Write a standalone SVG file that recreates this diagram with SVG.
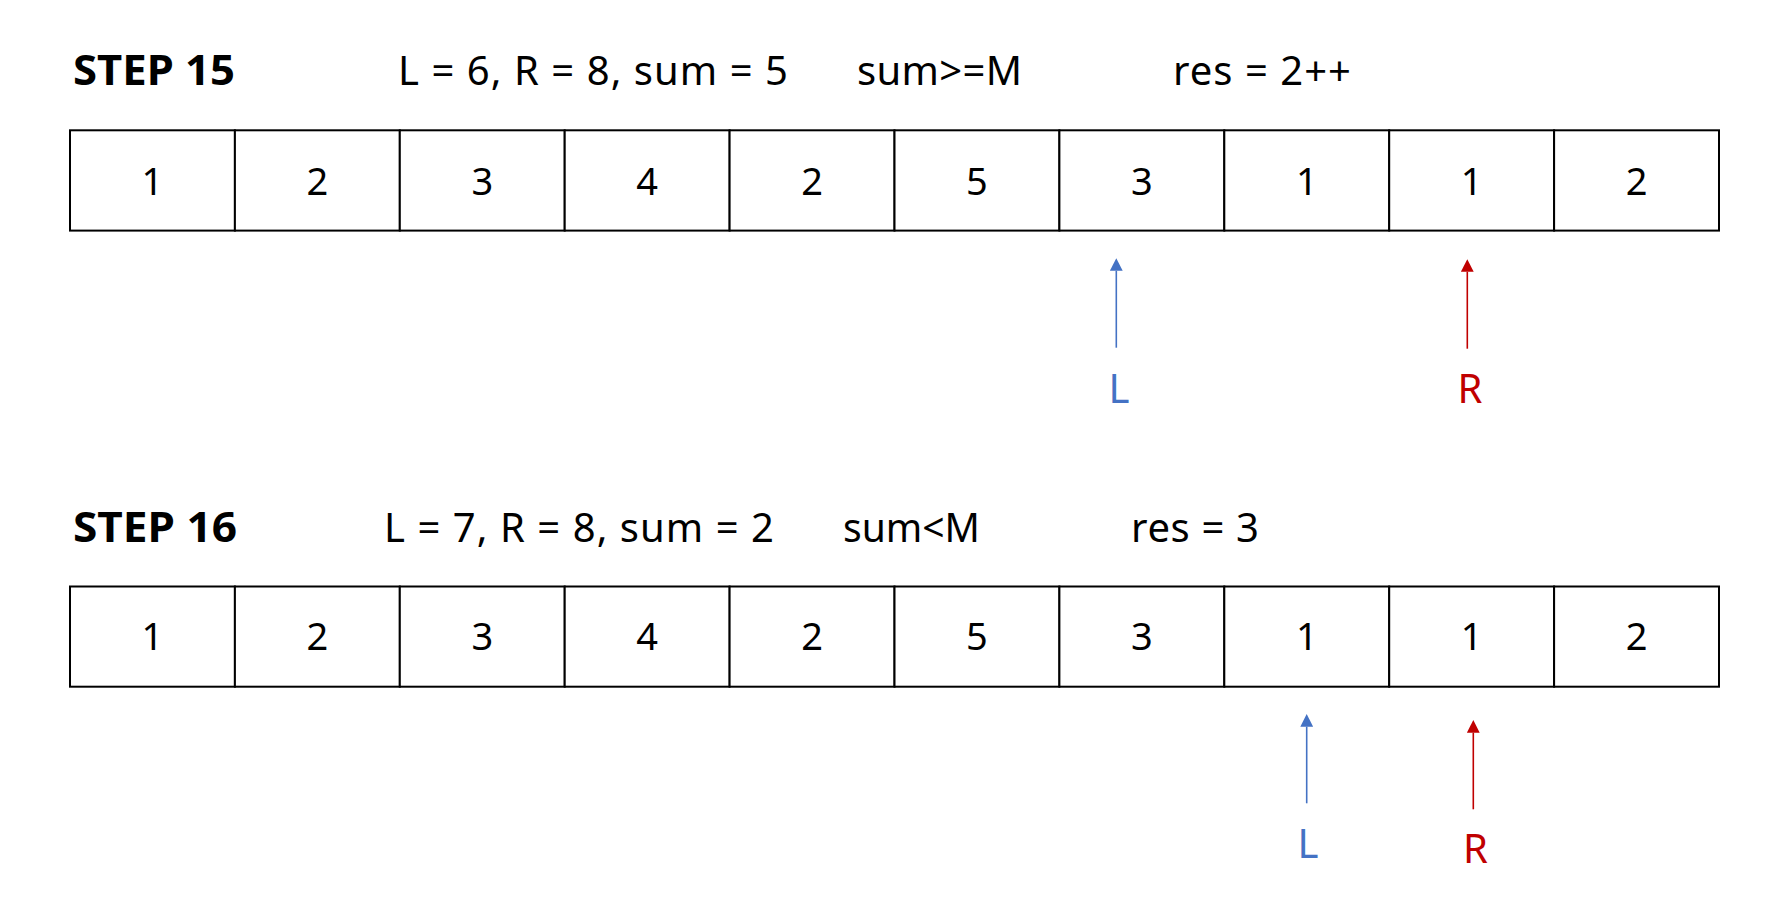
<svg xmlns="http://www.w3.org/2000/svg" width="1783" height="923" viewBox="0 0 1783 923">
<style>
.bg{fill:#ffffff}
.cell{fill:#ffffff;stroke:#000000;stroke-width:2}
.num{font-family:"Noto Sans","Open Sans","Liberation Sans",sans-serif;font-size:38px;fill:#000000;text-anchor:middle}
.step{font-family:"Noto Sans","Open Sans","Liberation Sans",sans-serif;font-size:42px;font-weight:bold;fill:#000000}
.hdr{font-family:"Noto Sans","Open Sans","Liberation Sans",sans-serif;font-size:40px;fill:#000000}
.lbl{font-family:"Noto Sans","Open Sans","Liberation Sans",sans-serif;font-size:40px;text-anchor:middle}
.blue{fill:#4472C4}
.red{fill:#C00000}
.lineB{stroke:#4472C4;stroke-width:1.6;fill:none}
.lineR{stroke:#C00000;stroke-width:1.6;fill:none}
</style>
<defs>
<marker id="headB" markerUnits="userSpaceOnUse" markerWidth="13" markerHeight="13" refX="0" refY="6.4" orient="auto" viewBox="0 0 13 13">
<path d="M0,0 L12.6,6.4 L0,12.8 z" fill="#4472C4"/>
</marker>
<marker id="headR" markerUnits="userSpaceOnUse" markerWidth="13" markerHeight="13" refX="0" refY="6.4" orient="auto" viewBox="0 0 13 13">
<path d="M0,0 L12.6,6.4 L0,12.8 z" fill="#C00000"/>
</marker>
</defs>
<rect class="bg" x="0" y="0" width="1783" height="923"/>

<g id="header15">
<text class="step" x="73" y="85" textLength="162" lengthAdjust="spacingAndGlyphs">STEP 15</text>
<text class="hdr" x="398" y="85" textLength="390" lengthAdjust="spacing">L = 6, R = 8, sum = 5</text>
<text class="hdr" x="857" y="85" textLength="165" lengthAdjust="spacing">sum&gt;=M</text>
<text class="hdr" x="1173" y="85" textLength="178" lengthAdjust="spacing">res = 2++</text>
</g>

<g id="array15">
<g id="a15c0"><rect class="cell" x="70" y="130.3" width="164.9" height="100.3"/><text class="num" x="152.45" y="195">1</text></g>
<g id="a15c1"><rect class="cell" x="234.9" y="130.3" width="164.9" height="100.3"/><text class="num" x="317.35" y="195">2</text></g>
<g id="a15c2"><rect class="cell" x="399.8" y="130.3" width="164.9" height="100.3"/><text class="num" x="482.25" y="195">3</text></g>
<g id="a15c3"><rect class="cell" x="564.7" y="130.3" width="164.9" height="100.3"/><text class="num" x="647.15" y="195">4</text></g>
<g id="a15c4"><rect class="cell" x="729.6" y="130.3" width="164.9" height="100.3"/><text class="num" x="812.05" y="195">2</text></g>
<g id="a15c5"><rect class="cell" x="894.5" y="130.3" width="164.9" height="100.3"/><text class="num" x="976.95" y="195">5</text></g>
<g id="a15c6"><rect class="cell" x="1059.4" y="130.3" width="164.9" height="100.3"/><text class="num" x="1141.85" y="195">3</text></g>
<g id="a15c7"><rect class="cell" x="1224.3" y="130.3" width="164.9" height="100.3"/><text class="num" x="1306.75" y="195">1</text></g>
<g id="a15c8"><rect class="cell" x="1389.2" y="130.3" width="164.9" height="100.3"/><text class="num" x="1471.65" y="195">1</text></g>
<g id="a15c9"><rect class="cell" x="1554.1" y="130.3" width="164.9" height="100.3"/><text class="num" x="1636.55" y="195">2</text></g>
</g>

<g id="labelL15"><text class="lbl blue" x="1119" y="402.5">L</text></g>
<g id="labelR15"><text class="lbl red" x="1470" y="402.5">R</text></g>

<g id="header16">
<text class="step" x="73" y="541.5" textLength="164" lengthAdjust="spacingAndGlyphs">STEP 16</text>
<text class="hdr" x="384" y="541.5" textLength="390" lengthAdjust="spacing">L = 7, R = 8, sum = 2</text>
<text class="hdr" x="843" y="541.5" textLength="137" lengthAdjust="spacingAndGlyphs">sum&lt;M</text>
<text class="hdr" x="1131" y="541.5" textLength="128" lengthAdjust="spacing">res = 3</text>
</g>

<g id="array16">
<g id="a16c0"><rect class="cell" x="70" y="586.5" width="164.9" height="100.2"/><text class="num" x="152.45" y="650">1</text></g>
<g id="a16c1"><rect class="cell" x="234.9" y="586.5" width="164.9" height="100.2"/><text class="num" x="317.35" y="650">2</text></g>
<g id="a16c2"><rect class="cell" x="399.8" y="586.5" width="164.9" height="100.2"/><text class="num" x="482.25" y="650">3</text></g>
<g id="a16c3"><rect class="cell" x="564.7" y="586.5" width="164.9" height="100.2"/><text class="num" x="647.15" y="650">4</text></g>
<g id="a16c4"><rect class="cell" x="729.6" y="586.5" width="164.9" height="100.2"/><text class="num" x="812.05" y="650">2</text></g>
<g id="a16c5"><rect class="cell" x="894.5" y="586.5" width="164.9" height="100.2"/><text class="num" x="976.95" y="650">5</text></g>
<g id="a16c6"><rect class="cell" x="1059.4" y="586.5" width="164.9" height="100.2"/><text class="num" x="1141.85" y="650">3</text></g>
<g id="a16c7"><rect class="cell" x="1224.3" y="586.5" width="164.9" height="100.2"/><text class="num" x="1306.75" y="650">1</text></g>
<g id="a16c8"><rect class="cell" x="1389.2" y="586.5" width="164.9" height="100.2"/><text class="num" x="1471.65" y="650">1</text></g>
<g id="a16c9"><rect class="cell" x="1554.1" y="586.5" width="164.9" height="100.2"/><text class="num" x="1636.55" y="650">2</text></g>
</g>

<g id="labelL16"><text class="lbl blue" x="1308" y="857.5">L</text></g>
<g id="labelR16"><text class="lbl red" x="1475.5" y="862.5">R</text></g>

<g id="connectors">
<line class="lineB" x1="1116.3" y1="347.7" x2="1116.3" y2="270.8" marker-end="url(#headB)"/>
<line class="lineR" x1="1467.3" y1="348.7" x2="1467.3" y2="271.8" marker-end="url(#headR)"/>
<line class="lineB" x1="1306.7" y1="803.3" x2="1306.7" y2="726.7" marker-end="url(#headB)"/>
<line class="lineR" x1="1473.3" y1="809.3" x2="1473.3" y2="732.7" marker-end="url(#headR)"/>
</g>
</svg>
